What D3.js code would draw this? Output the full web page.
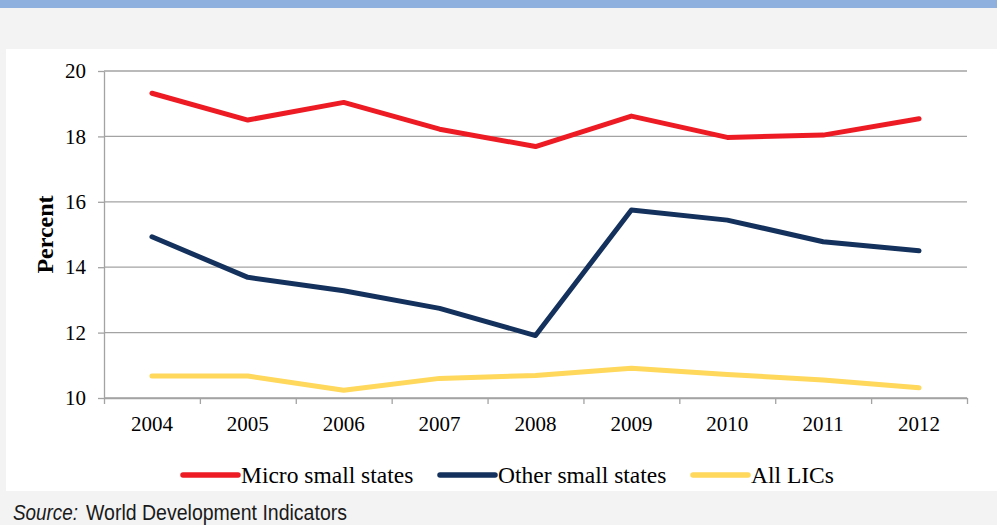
<!DOCTYPE html>
<html>
<head>
<meta charset="utf-8">
<script src="https://cdn.jsdelivr.net/npm/d3@7"></script>
<style>
  html, body { margin: 0; padding: 0; background: #f3f3f3; }
  svg { display: block; }
</style>
</head>
<body>
<svg id="chart" width="997" height="525"></svg>
<script>
// Tax revenue share by country group, 2004–2012
const years = ["2004", "2005", "2006", "2007", "2008", "2009", "2010", "2011", "2012"];
const microSmallStates = [19.32, 18.50, 19.04, 18.22, 17.69, 18.62, 17.97, 18.04, 18.54];
const otherSmallStates = [14.93, 13.69, 13.28, 12.74, 11.91, 15.75, 15.44, 14.78, 14.50];
const allLICs = [10.67, 10.67, 10.24, 10.60, 10.69, 10.91, 10.72, 10.55, 10.31];
const yTicks = [10, 12, 14, 16, 18, 20];
const seriesNames = ["Micro small states", "Other small states", "All LICs"];
const seriesColors = ["#ed1c24", "#13315c", "#ffd85c"];

const serif = "'Liberation Serif', 'Times New Roman', serif";
const sans = "'Liberation Sans', Arial, sans-serif";

const svg = d3.select("#chart");
const W = 997, H = 525;

// page background, header band and white chart panel
svg.append("rect").attr("width", W).attr("height", H).attr("fill", "#f3f3f3");
svg.append("rect").attr("width", W).attr("height", 8).attr("fill", "#8db0de");
svg.append("rect").attr("x", 6).attr("y", 49).attr("width", W - 6).attr("height", 442).attr("fill", "#ffffff");

const plot = { left: 104, right: 967, top: 71, bottom: 398 };

const x = d3.scaleBand().domain(years).range([plot.left, plot.right]).padding(0);
const y = d3.scaleLinear().domain([10, 20]).range([plot.bottom, plot.top]);
const gridColor = "#a3a3a3";

// horizontal gridlines
svg.append("g")
  .selectAll("line")
  .data(yTicks)
  .join("line")
  .attr("x1", plot.left)
  .attr("x2", plot.right)
  .attr("y1", d => y(d))
  .attr("y2", d => y(d))
  .attr("stroke", gridColor)
  .attr("stroke-width", 1.3);

// y axis
const yAxis = svg.append("g")
  .attr("transform", `translate(${plot.left},0)`)
  .call(d3.axisLeft(y).tickValues(yTicks).tickSize(6).tickSizeOuter(0).tickPadding(12).tickFormat(d3.format("d")))
  .attr("font-family", serif)
  .attr("font-size", 21);
yAxis.select(".domain").attr("stroke", gridColor).attr("stroke-width", 1.3);
yAxis.selectAll(".tick line").attr("stroke", gridColor).attr("stroke-width", 1.3);
yAxis.selectAll("text")
  .attr("fill", "#000")
  .style("font-family", serif)
  .style("font-size", "21px");

// x axis: tick marks on category boundaries
const xEdges = d3.scaleLinear().domain([0, years.length]).range([plot.left, plot.right]);
const xTickAxis = svg.append("g")
  .attr("transform", `translate(0,${plot.bottom})`)
  .call(d3.axisBottom(xEdges).tickValues(d3.range(0, years.length + 1)).tickSize(6).tickSizeOuter(0).tickFormat(""));
xTickAxis.select(".domain").attr("stroke", gridColor).attr("stroke-width", 1.3);
xTickAxis.selectAll(".tick line").attr("stroke", gridColor).attr("stroke-width", 1.3);

// x axis labels centred in each category
const xLabelAxis = svg.append("g")
  .attr("transform", `translate(0,${plot.bottom})`)
  .call(d3.axisBottom(x).tickSize(0).tickPadding(0))
  .attr("font-family", serif)
  .attr("font-size", 21);
xLabelAxis.select(".domain").remove();
xLabelAxis.selectAll("text")
  .attr("y", 33)
  .attr("dy", 0)
  .attr("fill", "#000")
  .style("font-family", serif)
  .style("font-size", "21px");

// y axis title
svg.append("text")
  .attr("transform", `translate(53,${(plot.top + plot.bottom) / 2}) rotate(-90)`)
  .attr("text-anchor", "middle")
  .style("font-family", serif)
  .style("font-size", "24px")
  .style("font-weight", "bold")
  .text("Percent");

// series lines
const series = [microSmallStates, otherSmallStates, allLICs];
const line = d3.line()
  .x((d, i) => x(years[i]) + x.bandwidth() / 2)
  .y(d => y(d));

svg.append("g")
  .selectAll("path")
  .data(series)
  .join("path")
  .attr("d", d => line(d))
  .attr("fill", "none")
  .attr("stroke", (d, i) => seriesColors[i])
  .attr("stroke-width", 5)
  .attr("stroke-linejoin", "round")
  .attr("stroke-linecap", "round");

// legend
const legendX = [183, 440, 693];
const legend = svg.append("g");
seriesNames.forEach((name, i) => {
  legend.append("line")
    .attr("x1", legendX[i])
    .attr("x2", legendX[i] + 55)
    .attr("y1", 475)
    .attr("y2", 475)
    .attr("stroke", seriesColors[i])
    .attr("stroke-width", 5.5)
    .attr("stroke-linecap", "round");
  legend.append("text")
    .attr("x", legendX[i] + 58)
    .attr("y", 483)
    .style("font-family", serif)
    .style("font-size", "23.5px")
    .attr("fill", "#000")
    .text(name);
});

// source note
svg.append("text")
  .attr("x", 13)
  .attr("y", 520)
  .attr("textLength", 65)
  .attr("lengthAdjust", "spacingAndGlyphs")
  .style("font-family", sans)
  .style("font-size", "22px")
  .style("font-style", "italic")
  .attr("fill", "#1a1a1a")
  .text("Source:");
svg.append("text")
  .attr("x", 86)
  .attr("y", 520)
  .attr("textLength", 261)
  .attr("lengthAdjust", "spacingAndGlyphs")
  .style("font-family", sans)
  .style("font-size", "22px")
  .attr("fill", "#1a1a1a")
  .text("World Development Indicators");
</script>
</body>
</html>
